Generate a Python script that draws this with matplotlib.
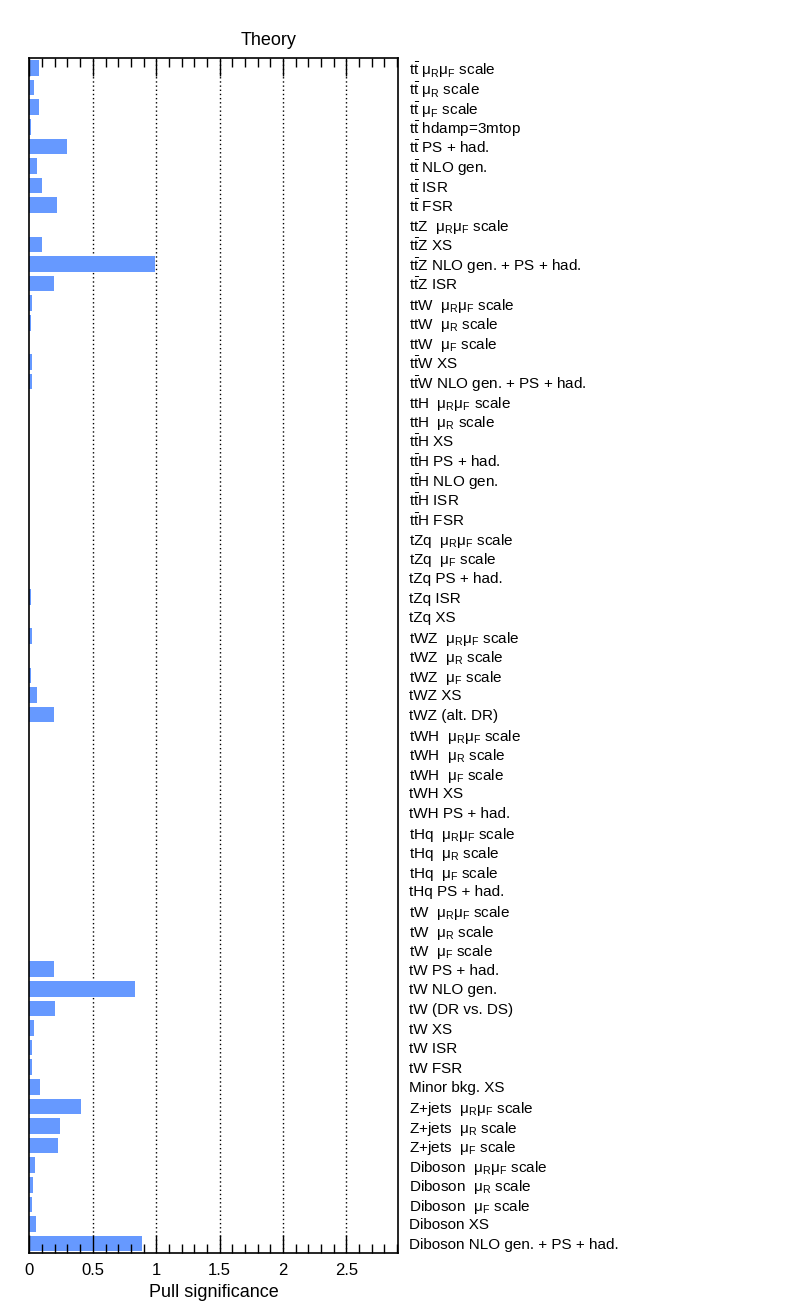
import matplotlib
matplotlib.use("Agg")
import matplotlib.pyplot as plt
import numpy as np

plt.rcParams['font.family'] = ['Liberation Sans', 'DejaVu Sans']
plt.rcParams['mathtext.fontset'] = 'custom'
plt.rcParams['mathtext.rm'] = 'Liberation Sans'
plt.rcParams['mathtext.it'] = 'Liberation Sans'
plt.rcParams['mathtext.bf'] = 'Liberation Sans:bold'

TT = r"t$\bar{\mathrm{t}}$"
MRF = r"$\mathrm{\mu_{R}\mu_{F}}$"
MR = r"$\mathrm{\mu_{R}}$"
MF = r"$\mathrm{\mu_{F}}$"

labels = [
    TT + " " + MRF + " scale",
    TT + " " + MR + " scale",
    TT + " " + MF + " scale",
    TT + " hdamp=3mtop",
    TT + " PS + had.",
    TT + " NLO gen.",
    TT + " ISR",
    TT + " FSR",
    "ttZ  " + MRF + " scale",
    TT + "Z XS",
    TT + "Z NLO gen. + PS + had.",
    TT + "Z ISR",
    "ttW  " + MRF + " scale",
    "ttW  " + MR + " scale",
    "ttW  " + MF + " scale",
    TT + "W XS",
    TT + "W NLO gen. + PS + had.",
    "ttH  " + MRF + " scale",
    "ttH  " + MR + " scale",
    TT + "H XS",
    TT + "H PS + had.",
    TT + "H NLO gen.",
    TT + "H ISR",
    TT + "H FSR",
    "tZq  " + MRF + " scale",
    "tZq  " + MF + " scale",
    "tZq PS + had.",
    "tZq ISR",
    "tZq XS",
    "tWZ  " + MRF + " scale",
    "tWZ  " + MR + " scale",
    "tWZ  " + MF + " scale",
    "tWZ XS",
    "tWZ (alt. DR)",
    "tWH  " + MRF + " scale",
    "tWH  " + MR + " scale",
    "tWH  " + MF + " scale",
    "tWH XS",
    "tWH PS + had.",
    "tHq  " + MRF + " scale",
    "tHq  " + MR + " scale",
    "tHq  " + MF + " scale",
    "tHq PS + had.",
    "tW  " + MRF + " scale",
    "tW  " + MR + " scale",
    "tW  " + MF + " scale",
    "tW PS + had.",
    "tW NLO gen.",
    "tW (DR vs. DS)",
    "tW XS",
    "tW ISR",
    "tW FSR",
    "Minor bkg. XS",
    "Z+jets  " + MRF + " scale",
    "Z+jets  " + MR + " scale",
    "Z+jets  " + MF + " scale",
    "Diboson  " + MRF + " scale",
    "Diboson  " + MR + " scale",
    "Diboson  " + MF + " scale",
    "Diboson XS",
    "Diboson NLO gen. + PS + had.",
]

pulls = [
    0.075, 0.035, 0.075, 0.009, 0.30, 0.06, 0.10, 0.22,
    0.0, 0.10, 0.99, 0.19,
    0.02, 0.01, 0.0, 0.02, 0.02,
    0.0, 0.0, 0.0, 0.0, 0.0, 0.0, 0.0,
    0.0, 0.0, 0.0, 0.012, 0.0,
    0.02, 0.0, 0.012, 0.06, 0.19,
    0.0, 0.0, 0.0, 0.0, 0.0,
    0.0, 0.0, 0.0, 0.0,
    0.0, 0.0, 0.0, 0.19, 0.83, 0.20, 0.035, 0.02, 0.02,
    0.083, 0.41, 0.24, 0.225,
    0.043, 0.028, 0.02, 0.05, 0.89,
]

major_ticks = [0, 0.5, 1, 1.5, 2, 2.5]
tick_labels = ["0", "0.5", "1", "1.5", "2", "2.5"]

fig = plt.figure(figsize=(7.96, 13.12), dpi=100)
ax = fig.add_axes([0.037, 0.0447, 0.4634, 0.9109])

y = np.arange(len(labels))
ax.barh(y, pulls, height=0.8, color="#6699ff", zorder=1)

for t in major_ticks[1:]:
    ax.axvline(t, color="black", linestyle=(0, (1, 2)), linewidth=1.0, zorder=0)

ax.set_xlim(0, 2.91)
ax.set_ylim(len(labels) - 0.5, -0.5)

ax.set_xticks(major_ticks)
ax.set_xticklabels(tick_labels, fontsize=12)
ax.set_xticks(np.arange(0, 2.91, 0.1), minor=True)
ax.tick_params(axis="x", which="major", direction="in", length=13, width=1,
               top=True, bottom=True, pad=7)
ax.tick_params(axis="x", which="minor", direction="in", length=6.5, width=1,
               top=True, bottom=True)

ax.yaxis.tick_right()
ax.set_yticks(y)
ax.set_yticklabels(labels, fontsize=11)
ax.tick_params(axis="y", which="both", length=0, pad=8)

for s in ax.spines.values():
    s.set_linewidth(1.2)

ax.set_xlabel("Pull significance", fontsize=13, labelpad=4)
fig.text(0.337, 0.9695, "Theory", fontsize=13, ha="center", va="center")

fig.savefig("out.png", dpi=100)
